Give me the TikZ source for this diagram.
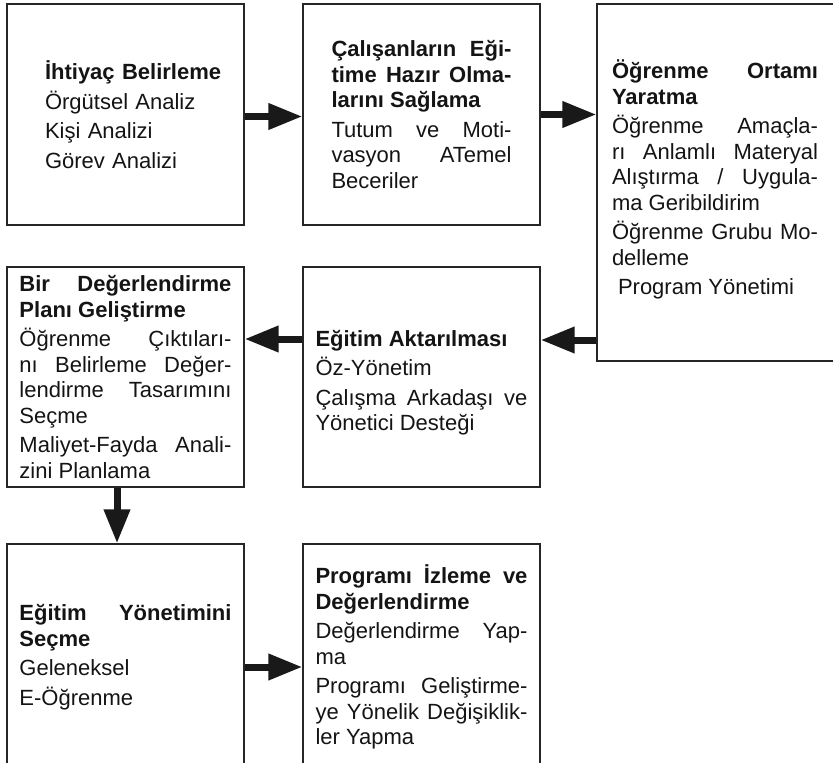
\documentclass[tikz,border=0pt]{standalone}
\usepackage{fontspec}
\setmainfont{Liberation Sans}
\usetikzlibrary{arrows.meta}
\newcommand{\bxsetup}{\parindent=0pt\parskip=4pt\tolerance=10000\hyphenpenalty=10000\exhyphenpenalty=10000\hbadness=10000\relax}
\tikzset{
  bx/.style={draw=black!85, line width=1.3pt, rectangle, inner sep=0pt,
    text width=#1, align=justify, text=black!92,
    font=\fontsize{22}{25.5}\selectfont},
  arr/.style={draw=black!90, line width=7pt, -{Triangle[length=34pt,width=25pt]}}
}
\begin{document}
\begin{tikzpicture}[x=1pt,y=-1pt]
\useasboundingbox (0,0) rectangle (833,763);
\coordinate (y340) at (0,340);
\coordinate (y339) at (0,339);
\coordinate (y667) at (0,667);
\coordinate (x117) at (117,0);

\node[bx=211pt, align=left, minimum width=237pt, minimum height=221pt] (b1) at (125.5,114.5)
  {\bxsetup\leftskip=25pt \textbf{İhtiyaç Belirleme}\par Örgütsel Analiz\par Kişi Analizi\par Görev Analizi\par};

\node[bx=180pt, minimum width=237pt, minimum height=221pt] (b2) at (421.5,114.5)
  {\bxsetup\textbf{Çalışanların Eği-\linebreak time Hazır Olma-\linebreak larını Sağlama}\par Tutum ve Moti-\linebreak vasyon ATemel\linebreak Beceriler\par};

\node[bx=212pt, minimum width=242pt, minimum height=357pt] (b3) at (718,182.5)
  {\bxsetup\rightskip=6pt\textbf{Öğrenme Ortamı\linebreak Yaratma}\par Öğrenme Amaçla-\linebreak rı Anlamlı Materyal\linebreak Alıştırma / Uygula-\linebreak ma Geribildirim\par Öğrenme Grubu Mo-\linebreak delleme\par \hspace*{6pt}Program Yönetimi\par\vspace*{6pt}};

\node[bx=212pt, minimum width=237pt, minimum height=220pt] (b4) at (421.5,377)
  {\bxsetup\rule{0pt}{28pt}\textbf{Eğitim Aktarılması}\par Öz-Yönetim\par Çalışma Arkadaşı ve\linebreak Yönetici Desteği\par};

\node[bx=212pt, minimum width=237pt, minimum height=220pt] (b5) at (125.5,377)
  {\bxsetup\textbf{Bir Değerlendirme\linebreak Planı Geliştirme}\par Öğrenme Çıktıları-\linebreak nı Belirleme Değer-\linebreak lendirme Tasarımını\linebreak Seçme\par Maliyet-Fayda Anali-\linebreak zini Planlama\par};

\node[bx=212pt, minimum width=237pt, minimum height=226pt] (b6) at (125.5,657)
  {\bxsetup\textbf{Eğitim Yönetimini\linebreak Seçme}\par Geleneksel\par E-Öğrenme\par};

\node[bx=212pt, minimum width=237pt, minimum height=226pt] (b7) at (421.5,657)
  {\bxsetup\textbf{Programı İzleme ve\linebreak Değerlendirme}\par Değerlendirme Yap-\linebreak ma\par Programı Geliştirme-\linebreak ye Yönelik Değişiklik-\linebreak ler Yapma\par};

\draw[arr] ([yshift=-2pt]b1.east) -- ([yshift=-2pt]b2.west);
\draw[arr] (b2.east |- b2.center) -- (b3.west |- b2.center);
\draw[arr] (b3.west |- y340) -- (b4.east |- y340);
\draw[arr] (b4.west |- y339) -- (b5.east |- y339);
\draw[arr] (b5.south -| x117) -- (b6.north -| x117);
\draw[arr] (b6.east |- y667) -- (b7.west |- y667);
\end{tikzpicture}
\end{document}
